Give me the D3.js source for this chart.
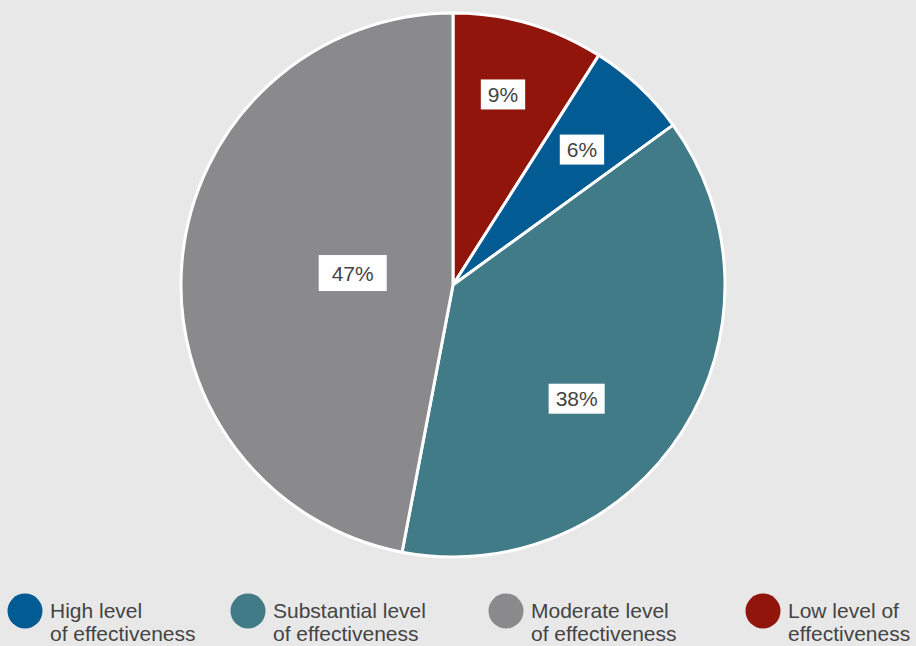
<!DOCTYPE html>
<html><head><meta charset="utf-8">
<script src="https://cdn.jsdelivr.net/npm/d3@7"></script>
<style>
html,body{margin:0;padding:0;background:#e8e8e8;}
svg{display:block;}
</style></head>
<body>
<svg id="c" width="916" height="646"></svg>
<script>
// Data (clockwise from 12 o'clock)
const categories = ["Low level of effectiveness", "High level of effectiveness", "Substantial level of effectiveness", "Moderate level of effectiveness"];
const values = [9, 6, 38, 47];
const colors = ["#92150b", "#035b93", "#417b88", "#8a8a8c"];
// Legend order and lines
const legendOrder = [1, 2, 3, 0];
const legendLines = [["Low level of", "effectiveness"], ["High level", "of effectiveness"], ["Substantial level", "of effectiveness"], ["Moderate level", "of effectiveness"]];

const FONT = "'Liberation Sans', Arial, sans-serif";
const TEXT_COLOR = "#444";
const svg = d3.select("#c");
const W = 916, H = 646;
svg.append("rect").attr("width", W).attr("height", H).attr("fill", "#e8e8e8");

const cx = 453, cy = 285, R = 272;
const g = svg.append("g").attr("transform", `translate(${cx},${cy})`);

const pie = d3.pie().sort(null).value(d => d)(values);
const arc = d3.arc().innerRadius(0).outerRadius(R);

g.selectAll("path.slice").data(pie).join("path")
  .attr("class", "slice")
  .attr("d", arc)
  .attr("fill", (d, i) => colors[i])
  .attr("stroke", "#fff")
  .attr("stroke-width", 3)
  .attr("stroke-linejoin", "round");

// label placement tweaks (layout): [radius, angle shift in degrees]
const labelPlace = [[197, -1.5], [187, 0.4], [168, 10.2], [101, 1.4]];
const fmt = v => v + "%";
const labels = g.selectAll("g.lbl").data(pie).join("g").attr("class", "lbl")
  .attr("transform", (d, i) => {
    const a = (d.startAngle + d.endAngle) / 2 + labelPlace[i][1] * Math.PI / 180;
    const r = labelPlace[i][0];
    const la = d3.arc().innerRadius(r).outerRadius(r).startAngle(a).endAngle(a);
    const [x, y] = la.centroid();
    return `translate(${x},${y})`;
  });
labels.each(function(d, i) {
  const s = d3.select(this);
  const t = s.append("text")
    .attr("text-anchor", "middle")
    .attr("y", 7.5)
    .attr("font-family", FONT)
    .attr("font-size", 21)
    .attr("fill", TEXT_COLOR)
    .text(fmt(d.data));
  const b = t.node().getBBox();
  const padX = i === 3 ? 13 : 7;
  const h = i === 3 ? 36 : 30;
  s.insert("rect", "text")
    .attr("x", -b.width / 2 - padX)
    .attr("y", -h / 2)
    .attr("width", b.width + 2 * padX)
    .attr("height", h)
    .attr("fill", "#fff");
});

// Legend
const legendX = [25, 248, 506, 763];
const legendY = 611;
const lg = svg.append("g");
legendOrder.forEach((ci, k) => {
  const item = lg.append("g").attr("transform", `translate(${legendX[k]},${legendY})`);
  item.append("circle").attr("r", 17.5).attr("fill", colors[ci]);
  const tx = item.append("text")
    .attr("x", 25)
    .attr("font-family", FONT)
    .attr("font-size", 21)
    .attr("fill", TEXT_COLOR);
  legendLines[ci].forEach((ln, j) => {
    tx.append("tspan").attr("x", 25).attr("y", 7 + j * 23).text(ln);
  });
});
</script>
</body></html>
